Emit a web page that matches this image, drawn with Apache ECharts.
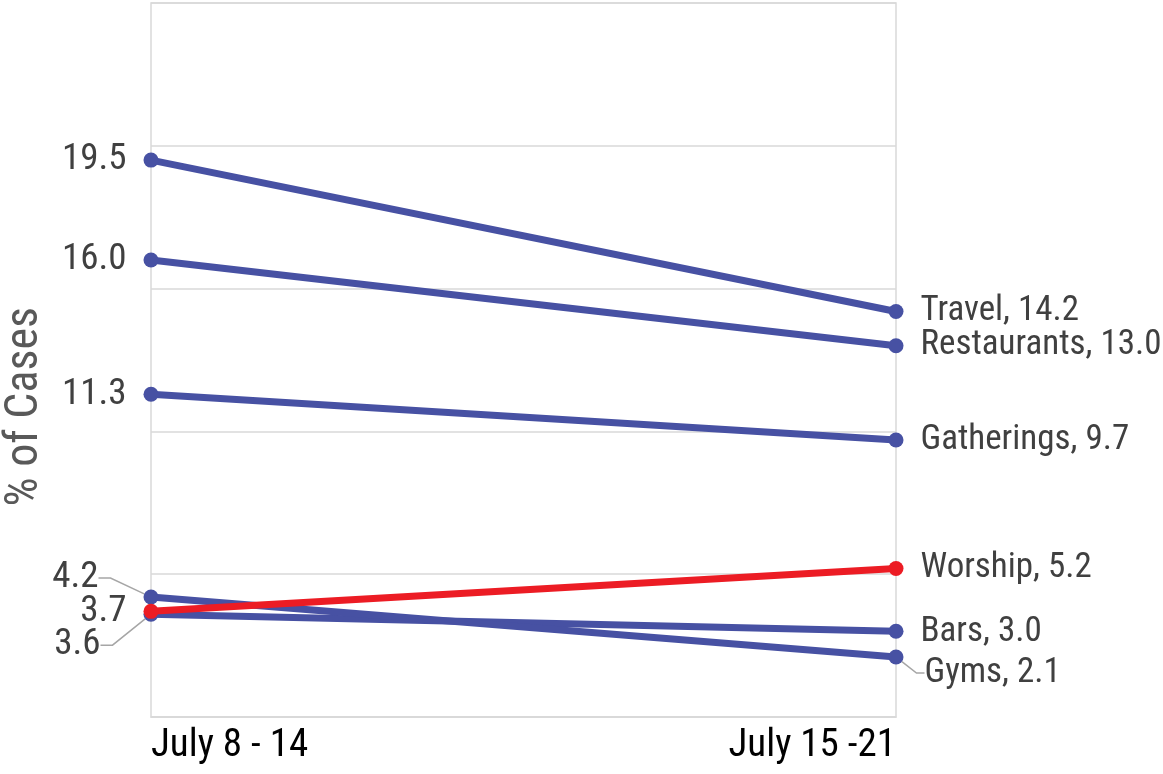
<!DOCTYPE html>
<html>
<head>
<meta charset="utf-8">
<script src="https://cdn.jsdelivr.net/npm/echarts@6/dist/echarts.min.js"></script>
<style>
html,body{margin:0;padding:0;background:#fff;}
#chart{width:1163px;height:774px;}
</style>
</head>
<body>
<div id="chart"></div>
<script>
const categories = ['July 8 - 14', 'July 15 -21'];
const seriesNames = ['Travel', 'Restaurants', 'Gatherings', 'Bars', 'Gyms', 'Worship'];
const week1 = [19.5, 16.0, 11.3, 3.6, 4.2, 3.7];
const week2 = [14.2, 13.0, 9.7, 3.0, 2.1, 5.2];
const yTicks = [0, 5, 10, 15, 20, 25];

const FONT = "'Liberation Sans Narrow', 'Roboto Condensed', 'DejaVu Sans Condensed', sans-serif";
const BLUE = '#4751a3';
const RED = '#ec1c24';

// label offsets for crowded labels [left, right] as [dx, dy]
const shifts = {
  Gyms: [[-28, -19], [4, 16]],
  Bars: [[-26, 31], [0, 1]]
};

const chart = echarts.init(document.getElementById('chart'));

const series = seriesNames.map((name, i) => ({
  name: name,
  type: 'line',
  data: [week1[i], week2[i]].map((v, j) => {
    const shifted = shifts[name] && (shifts[name][j][0] !== 0 || Math.abs(shifts[name][j][1]) > 5);
    return {
      value: v,
      label: j === 0
        ? { position: 'left', distance: 17, fontSize: 37 }
        : { position: 'right', distance: 17, fontSize: 35 },
      labelLine: { show: !!shifted, length2: j === 0 ? 12 : 8 }
    };
  }),
  symbol: 'circle',
  symbolSize: 15,
  lineStyle: { width: 7, color: name === 'Worship' ? RED : BLUE },
  itemStyle: { color: name === 'Worship' ? RED : BLUE },
  z: name === 'Worship' ? 5 : 3,
  label: {
    show: true,
    fontFamily: FONT,
    fontSize: 35,
    color: '#404040',
    formatter: (p) => p.dataIndex === 0 ? p.value.toFixed(1) : name + ', ' + p.value.toFixed(1)
  },
  labelLine: {
    show: false,
    minTurnAngle: 0,
    lineStyle: { color: '#a6a6a6', width: 1.5 }
  },
  labelLayout: (p) => {
    const s = shifts[name];
    if (!s) return {};
    const d = s[p.dataIndex];
    return { dx: d[0], dy: d[1] };
  },
  emphasis: { disabled: true },
  animation: false
}));

chart.setOption({
  animation: false,
  grid: {
    left: 151, right: 267, top: 3, bottom: 57,
    show: true, borderColor: '#d9d9d9', borderWidth: 1.5
  },
  xAxis: {
    type: 'category',
    data: categories,
    boundaryGap: false,
    axisLine: { lineStyle: { color: '#d9d9d9', width: 1.5 } },
    axisTick: { show: false },
    axisLabel: {
      fontFamily: FONT, fontSize: 39, color: '#000', margin: 10,
      alignMinLabel: 'left', alignMaxLabel: 'right'
    },
    splitLine: { show: false }
  },
  yAxis: {
    type: 'value',
    min: yTicks[0],
    max: yTicks[yTicks.length - 1],
    interval: 5,
    axisLabel: { show: false },
    axisLine: { show: false },
    axisTick: { show: false },
    splitLine: { show: true, lineStyle: { color: '#d9d9d9', width: 1.5 } }
  },
  graphic: [{
    type: 'text',
    left: 2,
    top: 307,
    rotation: Math.PI / 2,
    style: {
      text: '% of Cases',
      font: "46px " + FONT,
      fill: '#595959'
    }
  }],
  series: series
});
</script>
</body>
</html>
